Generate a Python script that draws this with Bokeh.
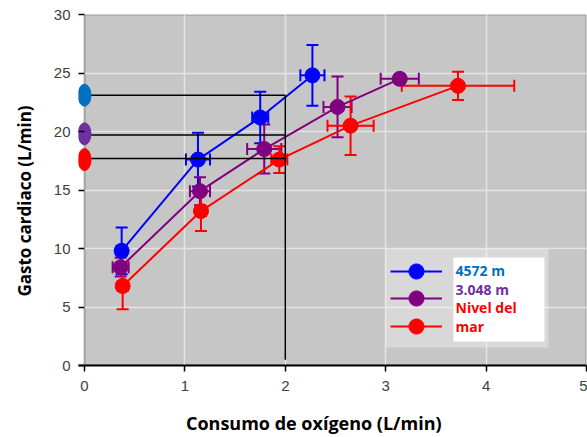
from bokeh.plotting import figure
from bokeh.models import (Whisker, TeeHead, ColumnDataSource, Legend, LegendItem,
                          Label, BoxAnnotation, Range1d)
from bokeh.embed import file_html
from bokeh.resources import INLINE

# ---- data -------------------------------------------------------------
series_names = ["4572 m", "3.048 m", "Nivel del mar"]
series_colors = ["#0000FF", "#800080", "#FF0000"]
text_colors = ["#0070C0", "#7030A0", "#FF0000"]

blue_x = [0.37, 1.13, 1.75, 2.27]
blue_y = [9.8, 17.6, 21.2, 24.8]
blue_xerr = [0.05, 0.12, 0.08, 0.12]
blue_yerr = [2.0, 2.3, 2.2, 2.6]

purple_x = [0.36, 1.15, 1.79, 2.52, 3.14]
purple_y = [8.4, 14.9, 18.5, 22.1, 24.5]
purple_xerr = [0.08, 0.10, 0.17, 0.14, 0.19]
purple_yerr = [0.8, 1.2, 2.1, 2.6, 0.4]

red_x = [0.38, 1.16, 1.94, 2.65, 3.72]
red_y = [6.8, 13.2, 17.6, 20.5, 23.9]
red_xerr = [0.05, 0.05, 0.08, 0.23, 0.56]
red_yerr = [2.0, 1.7, 1.15, 2.5, 1.2]

# reference marks at VO2 = 2 L/min
ref_x = 2.0
ref_y = [23.1, 19.7, 17.7]
ref_bottom = 0.5
ellipse_x = [0, 0, 0]
ellipse_y = [23.1, 19.8, 17.6]

x_ticks = [0, 1, 2, 3, 4, 5]
y_ticks = [0, 5, 10, 15, 20, 25, 30]

x_label = "Consumo de oxígeno (L/min)"
y_label = "Gasto cardiaco (L/min)"

series = [
    (blue_x, blue_y, blue_xerr, blue_yerr),
    (purple_x, purple_y, purple_xerr, purple_yerr),
    (red_x, red_y, red_xerr, red_yerr),
]

# ---- figure -----------------------------------------------------------
p = figure(width=587, height=437, x_range=Range1d(-0.06, 5), y_range=Range1d(0, 30),
           output_backend="svg", toolbar_location=None,
           min_border_left=78, min_border_right=1, min_border_top=14,
           min_border_bottom=71)
p.background_fill_color = "white"
p.border_fill_color = "white"
p.outline_line_color = None

# plotting area background (starts at x = 0, the y axis), with black frame
p.add_layout(BoxAnnotation(left=0, fill_color="#c6c6c6", fill_alpha=1,
                           line_color="#1a1a1a", line_width=2, level="image"))

p.xaxis.ticker = x_ticks
p.yaxis.ticker = y_ticks
p.xgrid.ticker = x_ticks[1:]
p.ygrid.ticker = y_ticks
for g in (p.xgrid, p.ygrid):
    g.grid_line_color = "#e4e4e4"
    g.grid_line_width = 1.5

for ax in (p.xaxis, p.yaxis):
    ax.axis_line_color = "black"
    ax.axis_line_width = 2
    ax.major_tick_line_color = "black"
    ax.major_tick_line_width = 1.5
    ax.minor_tick_line_color = None
    ax.major_label_text_font = "Liberation Sans"
    ax.major_label_text_font_size = "15px"
    ax.major_label_text_color = "#404040"
p.xaxis.major_tick_out = 6
p.xaxis.major_tick_in = 0
p.xaxis.major_label_standoff = 9
# y axis sits at the frame edge; the box border draws the axis line at x = 0
p.yaxis.axis_line_color = None
p.yaxis.major_tick_out = 0
p.yaxis.major_tick_in = 6
p.yaxis.major_label_standoff = 8

# trailing no-break spaces shift the centred labels slightly
p.yaxis.axis_label = y_label + "\u00a0" * 5
p.yaxis.axis_label_text_font = "Open Sans"
p.yaxis.axis_label_text_font_style = "bold"
p.yaxis.axis_label_text_font_size = "17px"
p.yaxis.axis_label_text_color = "black"
p.yaxis.axis_label_standoff = 15

p.xaxis.axis_label = x_label + "\u00a0" * 8
p.xaxis.axis_label_text_font = "Open Sans"
p.xaxis.axis_label_text_font_style = "bold"
p.xaxis.axis_label_text_font_size = "18px"
p.xaxis.axis_label_text_color = "black"
p.xaxis.axis_label_standoff = 17

# ---- series -------------------------------------------------------------
legend_renderers = []
for (xs, ys, xe, ye), c in zip(series, series_colors):
    src = ColumnDataSource(dict(
        x=xs, y=ys,
        upper=[v + e for v, e in zip(ys, ye)],
        lower=[v - e for v, e in zip(ys, ye)],
        right=[v + e for v, e in zip(xs, xe)],
        left=[v - e for v, e in zip(xs, xe)],
    ))
    p.add_layout(Whisker(base="x", upper="upper", lower="lower", dimension="height",
                         source=src, line_color=c, line_width=2,
                         upper_head=TeeHead(size=12, line_color=c, line_width=2),
                         lower_head=TeeHead(size=12, line_color=c, line_width=2)))
    p.add_layout(Whisker(base="y", upper="right", lower="left", dimension="width",
                         source=src, line_color=c, line_width=2,
                         upper_head=TeeHead(size=12, line_color=c, line_width=2),
                         lower_head=TeeHead(size=12, line_color=c, line_width=2)))
    lr = p.line("x", "y", source=src, line_color=c, line_width=2)
    sr = p.scatter("x", "y", source=src, size=15, fill_color=c, line_color=c)
    legend_renderers.append([lr, sr])

# reference lines
p.segment(x0=[0] * len(ref_y), y0=ref_y, x1=[ref_x] * len(ref_y), y1=ref_y,
          line_color="black", line_width=1.5)
p.segment(x0=[ref_x], y0=[ref_bottom], x1=[ref_x], y1=[max(ref_y)],
          line_color="black", line_width=1.5)

# ellipse markers on the y axis
p.ellipse(x=ellipse_x, y=ellipse_y, width=13, height=22, width_units="screen",
          height_units="screen", fill_color=text_colors, line_color=text_colors)

# ---- legend -----------------------------------------------------------
p.add_layout(BoxAnnotation(left=307, right=470, top=117, bottom=18,
                           left_units="screen", right_units="screen",
                           top_units="screen", bottom_units="screen",
                           fill_color="white", fill_alpha=0.32, line_alpha=0))
p.add_layout(BoxAnnotation(left=375, right=466, top=108, bottom=24,
                           left_units="screen", right_units="screen",
                           top_units="screen", bottom_units="screen",
                           fill_color="white", fill_alpha=1, line_alpha=0))

legend_bottoms = [75, 48, 20]
for rends, yb in zip(legend_renderers, legend_bottoms):
    leg = Legend(items=[LegendItem(label=" ", renderers=rends)], location=(312, yb),
                 glyph_width=52, glyph_height=38, padding=0, margin=0, spacing=0,
                 label_text_font_size="1px", label_width=1, label_height=1,
                 label_standoff=0, background_fill_alpha=0, border_line_alpha=0)
    p.add_layout(leg, "center")

legend_lines = [("4572 m", text_colors[0]), ("3.048 m", text_colors[1]),
                ("Nivel del", text_colors[2]), ("mar", text_colors[2])]
legend_text_y = [95, 76, 58, 39]
for (t, c), yy in zip(legend_lines, legend_text_y):
    p.add_layout(Label(x=377, y=yy, x_units="screen", y_units="screen", text=t,
                       text_font="Open Sans", text_font_style="bold",
                       text_font_size="14px", text_color=c, text_baseline="middle"))

open("out.html", "w").write(file_html(p, INLINE))
